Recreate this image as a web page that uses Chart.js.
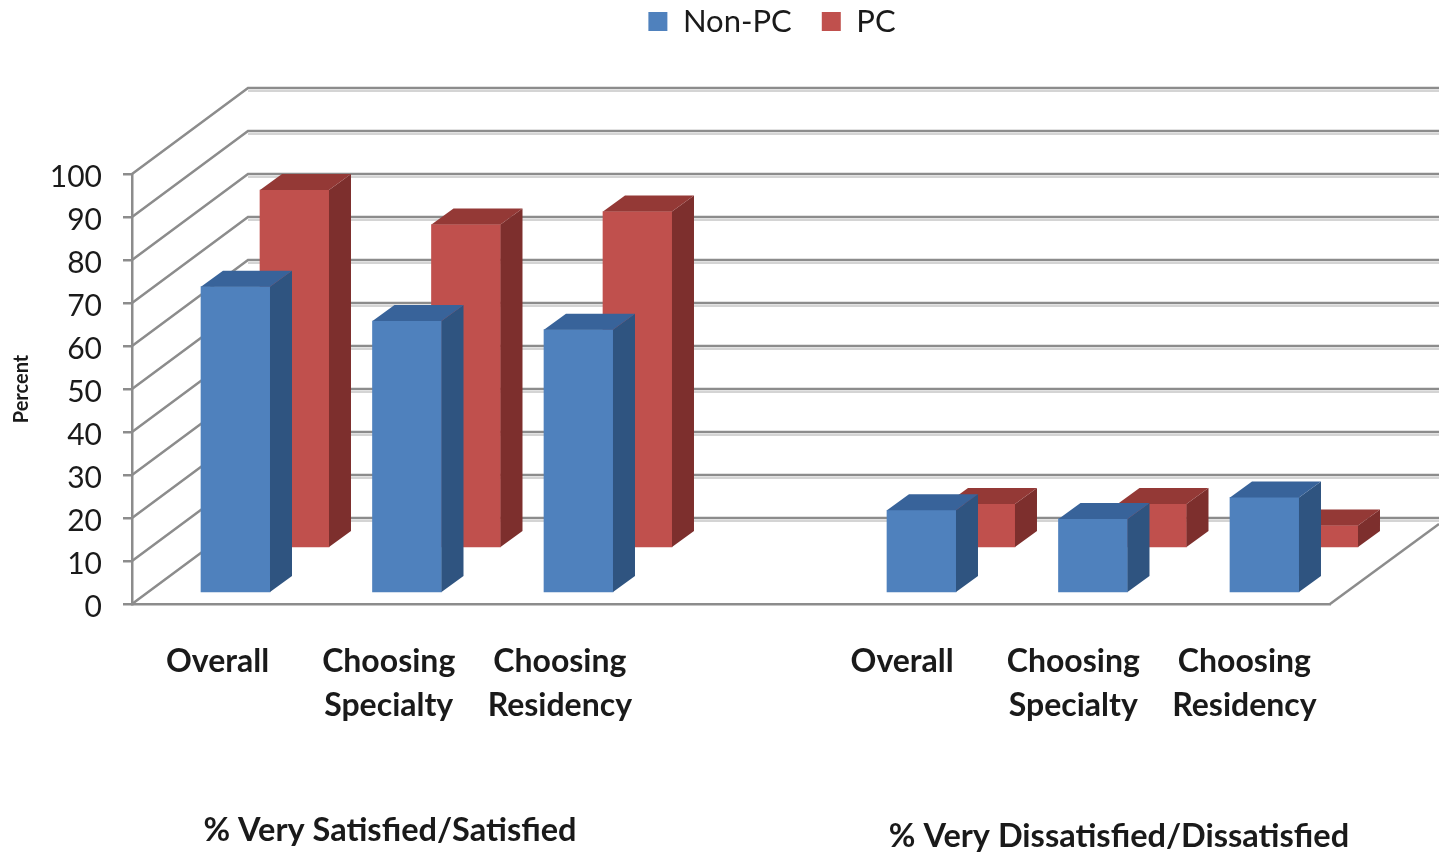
<!DOCTYPE html>
<html>
<head>
<meta charset="utf-8">
<style>
html, body { margin: 0; padding: 0; background: #fff; }
#wrap { width: 1439px; height: 852px; }
</style>
<script src="https://cdn.jsdelivr.net/npm/chart.js@4"></script>
</head>
<body>
<div id="wrap"><canvas id="chart" width="1439" height="852"></canvas></div>
<script>
// data
const categories = ["Overall", ["Choosing", "Specialty"], ["Choosing", "Residency"], "", "Overall", ["Choosing", "Specialty"], ["Choosing", "Residency"]]
const nonPc = [71, 63, 61, null, 19, 17, 22]
const pc = [83, 75, 78, null, 10, 10, 5]
const yTicks = [0, 10, 20, 30, 40, 50, 60, 70, 80, 90, 100]
const groupTitles = ["% Very Satisfied/Satisfied", "% Very Dissatisfied/Dissatisfied"]

const labelFont = "Lato, Carlito, sans-serif"
const lineGray = "#8c8c8c"

function toPoints(values) {
    return values.map((v, i) => ({ x: i, y: v }))
}

// side and top faces of every bar, taken from the bar elements
const barFaces = {
    id: "barFaces",
    afterDatasetDraw(chart, args) {
        let ctx = chart.ctx
        let ds = chart.data.datasets[args.index]
        ctx.save()
        args.meta.data.forEach((bar, i) => {
            if (ds.data[i].y === null) return
            let p = bar.getProps(["x", "y", "base", "width"], true)
            let l = p.x - p.width / 2
            let r = p.x + p.width / 2
            let dx = 22
            let dy = 16
            ctx.fillStyle = ds.sideColor
            ctx.beginPath()
            ctx.moveTo(r, p.y)
            ctx.lineTo(r + dx, p.y - dy)
            ctx.lineTo(r + dx, p.base - dy)
            ctx.lineTo(r, p.base)
            ctx.fill()
            ctx.fillStyle = ds.topColor
            ctx.beginPath()
            ctx.moveTo(l, p.y)
            ctx.lineTo(l + dx, p.y - dy)
            ctx.lineTo(r + dx, p.y - dy)
            ctx.lineTo(r, p.y)
            ctx.fill()
        })
        ctx.restore()
    }
}

// 3d walls behind the bars, hung on the y scale
const walls = {
    id: "walls",
    beforeDatasetsDraw(chart) {
        let ctx = chart.ctx
        let y = chart.scales.y
        let area = chart.chartArea
        let dx = 116
        let dy = 86
        ctx.save()
        ctx.lineCap = "butt"
        for (let t of yTicks) {
            let py = y.getPixelForValue(t)
            // soft shadow under the back line
            ctx.strokeStyle = "#d4d4d4"
            ctx.lineWidth = 2
            ctx.beginPath()
            ctx.moveTo(area.left + dx, py - dy + 3)
            ctx.lineTo(chart.width, py - dy + 3)
            ctx.stroke()
            ctx.strokeStyle = lineGray
            ctx.lineWidth = 2.5
            ctx.beginPath()
            ctx.moveTo(area.left, py)
            ctx.lineTo(area.left + dx, py - dy)
            ctx.lineTo(chart.width, py - dy)
            ctx.stroke()
        }
        // right edge of the floor
        let y0 = y.getPixelForValue(0)
        ctx.lineWidth = 2.5
        ctx.beginPath()
        ctx.moveTo(area.right, y0)
        ctx.lineTo(area.right + 109, y0 - 80)
        ctx.stroke()
        ctx.restore()
    }
}

// group captions under the categories, legend moved to the top and right of centre
const captions = {
    id: "captions",
    afterLayout(chart) {
        chart.legend.left = 105
        chart.legend.right = 1439
        chart.legend.top = -24
    },
    afterDraw(chart) {
        let ctx = chart.ctx
        ctx.save()
        ctx.font = "bold 32.5px " + labelFont
        ctx.fillStyle = "#1a1a1a"
        ctx.textAlign = "center"
        ctx.textBaseline = "middle"
        ctx.fillText(groupTitles[0], 390, 831)
        ctx.fillText(groupTitles[1], 1119, 837)
        ctx.restore()
    }
}

let chart = new Chart("chart", {
    type: "bar",
    data: {
        labels: categories,
        datasets: [
            {
                label: "Non-PC",
                data: toPoints(nonPc),
                xAxisID: "xFront",
                yAxisID: "yFront",
                backgroundColor: "#4f81bd",
                sideColor: "#2f5480",
                topColor: "#38639a",
                grouped: false,
                barThickness: 69,
                clip: false
            },
            {
                label: "PC",
                data: toPoints(pc),
                xAxisID: "xBack",
                yAxisID: "yBack",
                backgroundColor: "#c0504d",
                sideColor: "#7d2f2d",
                topColor: "#943936",
                grouped: false,
                barThickness: 69,
                clip: false
            }
        ]
    },
    options: {
        responsive: false,
        animation: false,
        layout: { padding: { top: 103, right: 109, bottom: 0, left: 0 } },
        plugins: {
            tooltip: { enabled: false },
            legend: {
                position: "top",
                labels: {
                    boxWidth: 19,
                    boxHeight: 19,
                    padding: 30,
                    color: "#1a1a1a",
                    font: { family: labelFont, size: 31 }
                }
            }
        },
        scales: {
            x: {
                type: "category",
                position: "bottom",
                grid: { display: false, drawTicks: false },
                border: { color: lineGray, width: 2.5 },
                afterFit(s) { s.height = 248 },
                ticks: {
                    autoSkip: false,
                    maxRotation: 0,
                    padding: 36,
                    color: "#1a1a1a",
                    font: { family: labelFont, size: 32, weight: "bold", lineHeight: 1.375 }
                }
            },
            y: {
                position: "left",
                min: 0,
                max: 100,
                afterFit(s) { s.width = 132 },
                afterBuildTicks(s) { s.ticks = yTicks.map(v => ({ value: v })) },
                grid: { drawOnChartArea: false, color: lineGray, lineWidth: 2.5, tickLength: 9 },
                border: { color: lineGray, width: 2.5 },
                title: {
                    display: true,
                    text: "Percent",
                    color: "#1a1a1a",
                    font: { family: labelFont, size: 20, weight: "bold" },
                    padding: { top: 10, bottom: 0 }
                },
                ticks: {
                    padding: 21,
                    labelOffset: 3,
                    color: "#1a1a1a",
                    font: { family: labelFont, size: 30 }
                }
            },
            xFront: { type: "linear", display: false, offset: false, min: -0.6035, max: 6.382, grid: { display: false } },
            xBack: { type: "linear", display: false, offset: false, min: -0.9475, max: 6.038, grid: { display: false } },
            yFront: { display: false, min: -2.79, max: 97.21, grid: { display: false } },
            yBack: { display: false, min: -13.26, max: 86.74, grid: { display: false } }
        }
    },
    plugins: [walls, barFaces, captions]
})
</script>
</body>
</html>
